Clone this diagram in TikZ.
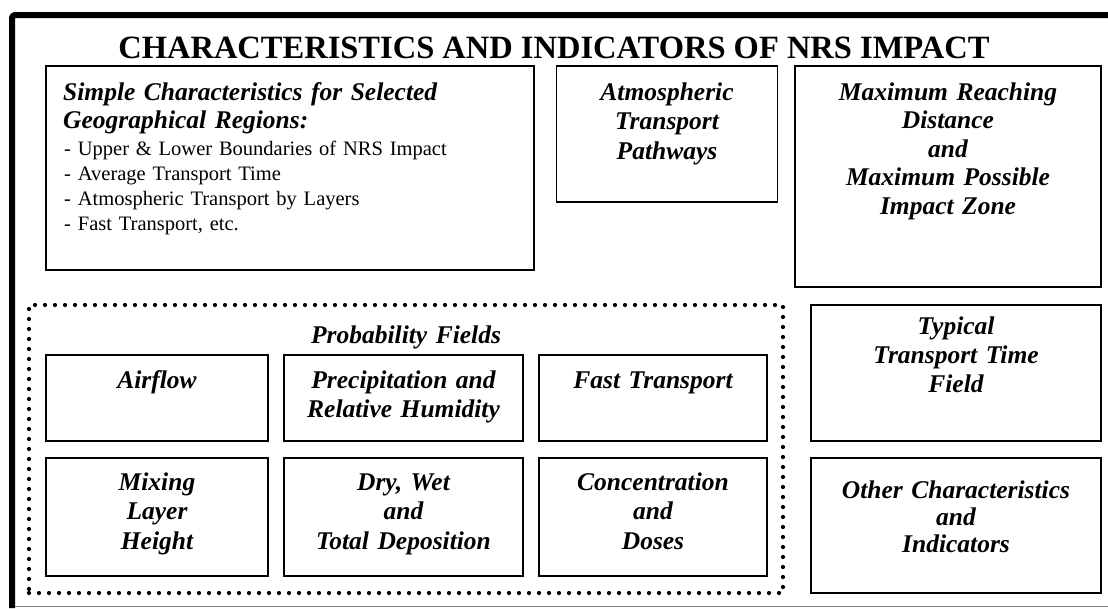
\documentclass[tikz,border=0pt]{standalone}
\usepackage{fontspec}
\setmainfont{Liberation Serif}
\begin{document}
\begin{tikzpicture}[x=1pt,y=-1pt,
  box/.style={draw, line width=1.4pt, anchor=north west, inner sep=0pt, outer sep=0pt},
  dotbox/.style={draw, line width=4.2pt, line cap=round, dash pattern=on 0pt off 10pt, anchor=north west, inner sep=0pt, outer sep=0pt},
  hd/.style={font=\fontsize{25.5}{#1}\selectfont\bfseries\itshape, anchor=base, align=center, inner sep=0pt, text width=300pt},
  hd/.default=29,
  hdl/.style={font=\fontsize{25.5}{28}\selectfont\bfseries\itshape, anchor=base west, align=left, inner sep=0pt, text width=470pt},
  body/.style={font=\fontsize{20.5}{25}\selectfont, anchor=base west, align=left, inner sep=0pt, text width=470pt},
  ttl/.style={font=\fontsize{32.5}{40}\selectfont\bfseries, anchor=base, inner sep=0pt}
]
\useasboundingbox (0,0) rectangle (1108,608);
% outer frame
\draw[line width=6pt, line join=round, rounded corners=3pt] (12,608) -- (12,15) -- (1108,15);
\draw[gray, line width=1pt] (15,606.5) -- (1108,606.5);
% title
\node[ttl] (title) at (554,58) {CHARACTERISTICS AND INDICATORS OF NRS IMPACT};
% top row boxes
\node[box, minimum width=488pt, minimum height=204pt] (b1) at (46,66) {};
\node[box, minimum width=221pt, minimum height=136pt] (b2) at (556.5,66) {};
\node[box, minimum width=306pt, minimum height=221pt] (b3) at (795,66) {};
\node[hdl] (t1a) at (63,100) {Simple Characteristics for Selected\\Geographical Regions:};
\node[body] (t1b) at (64,155) {- Upper \& Lower Boundaries of NRS Impact\\- Average Transport Time\\- Atmospheric Transport by Layers\\- Fast Transport, etc.};
\node[hd=29.5] (t2) at (667,100) {Atmospheric\\Transport\\Pathways};
\node[hd=28.5] (t3) at (948,100) {Maximum Reaching\\Distance\\and\\Maximum Possible\\Impact Zone};
% probability fields group
\node[dotbox, minimum width=754pt, minimum height=288pt] (pf) at (29,305) {};
\node[hd] (tpf) at (406,343) {Probability Fields};
\node[box, minimum width=222pt, minimum height=86pt] (air) at (46,355) {};
\node[box, minimum width=239pt, minimum height=86pt] (pre) at (284,355) {};
\node[box, minimum width=228pt, minimum height=86pt] (fast) at (539,355) {};
\node[box, minimum width=222pt, minimum height=118pt] (mix) at (46,458) {};
\node[box, minimum width=239pt, minimum height=118pt] (dep) at (284,458) {};
\node[box, minimum width=228pt, minimum height=118pt] (con) at (539,458) {};
\node[hd] (tair) at (157,388) {Airflow};
\node[hd] (tpre) at (403.5,388) {Precipitation and\\Relative Humidity};
\node[hd] (tfast) at (653,388) {Fast Transport};
\node[hd=29.5] (tmix) at (157,490) {Mixing\\Layer\\Height};
\node[hd=29.5] (tdep) at (403.5,490) {Dry, Wet\\and\\Total Deposition};
\node[hd=29.5] (tcon) at (653,490) {Concentration\\and\\Doses};
% right column
\node[box, minimum width=290pt, minimum height=136pt] (typ) at (811,305) {};
\node[box, minimum width=290pt, minimum height=135pt] (oth) at (811,458) {};
\node[hd=29] (ttyp) at (956,334) {Typical\\Transport Time\\Field};
\node[hd=27] (toth) at (956,498) {Other Characteristics\\and\\Indicators};
\end{tikzpicture}
\end{document}
